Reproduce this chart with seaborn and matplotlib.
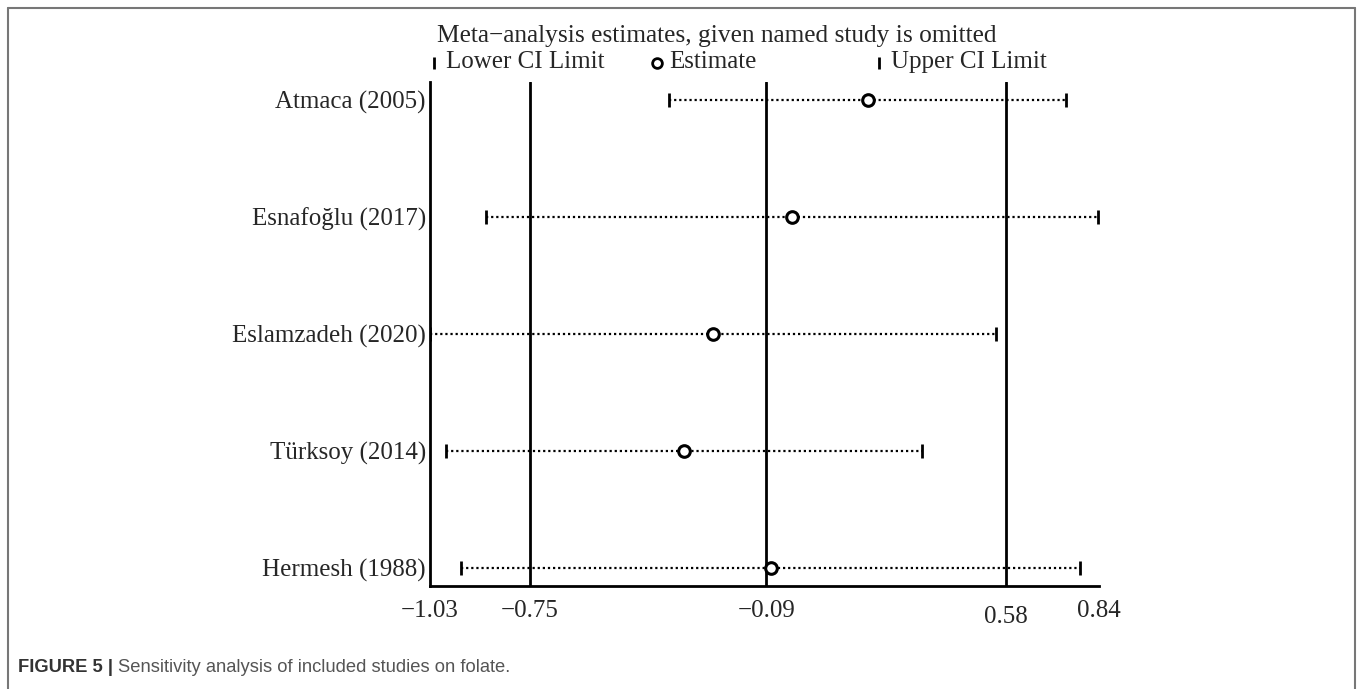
import matplotlib
matplotlib.use("Agg")
import matplotlib.pyplot as plt
from matplotlib.lines import Line2D
import seaborn as sns
import pandas as pd

studies = ["Atmaca (2005)", "Esnafoğlu (2017)", "Eslamzadeh (2020)", "Türksoy (2014)", "Hermesh (1988)"]
estimates = [0.194, -0.018, -0.239, -0.320, -0.077]
lower_ci = [-0.362, -0.873, -1.030, -0.985, -0.943]
upper_ci = [0.748, 0.837, 0.552, 0.345, 0.787]
ref_lines = [-0.75, -0.09, 0.58]
tick_values = [-1.03, -0.75, -0.09, 0.58, 0.84]
tick_labels = ["−1.03", "−0.75", "−0.09", "0.58", "0.84"]
title_text = "Meta−analysis estimates, given named study is omitted"
caption_bold = "FIGURE 5 | "
caption_text = "Sensitivity analysis of included studies on folate."

sns.set_style("white")
plt.rcParams["font.family"] = ["Liberation Serif", "DejaVu Serif"]

df = pd.DataFrame({"study": studies, "est": estimates, "lo": lower_ci, "hi": upper_ci})
df["pos"] = range(len(df))

W, H = 1363, 689
fig = plt.figure(figsize=(W / 100, H / 100), dpi=100)
ax = fig.add_axes([430 / W, 1 - 586 / H, (1099 - 430) / W, (586 - 82) / H])

# reference lines
for r in ref_lines:
    ax.axvline(r, color="black", lw=2, zorder=1)

# CI dotted lines + caps
ax.hlines(df["pos"], df["lo"], df["hi"], colors="black", linestyles=(0, (1, 1.3)), lw=1.6, zorder=2)
ax.scatter(df["lo"], df["pos"], marker="|", s=110, color="black", lw=2, zorder=3)
ax.scatter(df["hi"], df["pos"], marker="|", s=110, color="black", lw=2, zorder=3)

sns.scatterplot(data=df, x="est", y="pos", ax=ax, marker="o", s=70,
                facecolor="white", edgecolor="black", linewidth=2.2, zorder=4, legend=False)

ax.set_xlim(tick_values[0], tick_values[-1])
pad = 18 / 117
ax.set_ylim(len(df) - 1 + pad, -pad)
ax.set_yticks(df["pos"])
ax.set_yticklabels(df["study"], fontsize=18)
ax.tick_params(axis="y", length=0, pad=3)
ax.set_xticks(tick_values)
ax.set_xticklabels([])
ax.tick_params(axis="x", direction="out", length=11, width=2, color="black")
ax.set_xlabel("")
ax.set_ylabel("")
for s in ["top", "right"]:
    ax.spines[s].set_visible(False)
for s in ["left", "bottom"]:
    ax.spines[s].set_color("black")
    ax.spines[s].set_linewidth(2)

# tick labels (staggered as in original)
for v, lab in zip(tick_values, tick_labels):
    yoff = -25 if lab != "0.58" else -31
    ax.annotate(lab, xy=(v, 0), xycoords=("data", "axes fraction"),
                xytext=(0, yoff), textcoords="offset pixels",
                ha="center", va="center", fontsize=18)

# legend/title area
fig.text(717 / W, 1 - 36 / H, title_text, ha="center", va="center", fontsize=18.3)
ly = 1 - 63 / H
fig.add_artist(Line2D([434 / W], [ly], marker="|", markersize=8.5, mew=2, color="black",
                      transform=fig.transFigure, linestyle="none"))
fig.text(446 / W, ly + 1 / H, "Lower CI Limit", ha="left", va="center", fontsize=18)
fig.add_artist(Line2D([657 / W], [ly], marker="o", markersize=7, mew=2, mfc="white", mec="black",
                      transform=fig.transFigure, linestyle="none"))
fig.text(669 / W, ly + 1 / H, "Estimate", ha="left", va="center", fontsize=18)
fig.add_artist(Line2D([879 / W], [ly], marker="|", markersize=8.5, mew=2, color="black",
                      transform=fig.transFigure, linestyle="none"))
fig.text(891 / W, ly + 1 / H, "Upper CI Limit", ha="left", va="center", fontsize=18)

# outer frame (top, left, right)
fc = "#777777"
fig.add_artist(Line2D([8 / W, 1355 / W], [1 - 8 / H, 1 - 8 / H], color=fc, lw=1.5, transform=fig.transFigure))
fig.add_artist(Line2D([8 / W, 8 / W], [1 - 8 / H, 0], color=fc, lw=1.5, transform=fig.transFigure))
fig.add_artist(Line2D([1355 / W, 1355 / W], [1 - 8 / H, 0], color=fc, lw=1.5, transform=fig.transFigure))

# caption
cap_fam = ["Liberation Sans Narrow", "Liberation Sans", "DejaVu Sans"]
t1 = fig.text(18 / W, 1 - 668 / H, caption_bold, ha="left", va="center", fontsize=13.2,
              fontweight="bold", color="#333333", family=cap_fam)
fig.canvas.draw()
bb = t1.get_window_extent()
fig.text(bb.x1 / W, 1 - 668 / H, caption_text, ha="left", va="center", fontsize=13.2,
         color="#555555", family=cap_fam)

fig.savefig("out.png", dpi=100)
